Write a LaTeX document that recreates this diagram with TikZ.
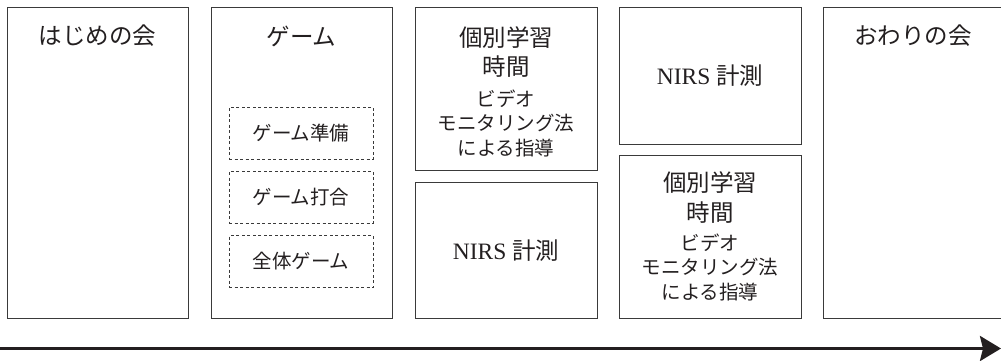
\documentclass[tikz,border=0pt]{standalone}
\usepackage{fontspec}
\setmainfont{Liberation Serif}
\newfontfamily\jp{Noto Sans CJK JP}
\usetikzlibrary{arrows.meta}
\definecolor{ink}{HTML}{231F20}
\definecolor{edge}{HTML}{3A3A3A}
\tikzset{
  boxnode/.style={draw=edge, line width=1pt, rectangle, inner sep=0pt},
  dashbox/.style={draw=edge, line width=0.9pt, dash pattern=on 3pt off 2.5pt, rectangle, inner sep=0pt, minimum width=144pt, minimum height=52pt},
  bigtxt/.style={text=ink, inner sep=0pt, align=center, font=\jp\fontsize{23.5}{29.5}\selectfont},
  smalltxt/.style={text=ink, inner sep=0pt, align=center, font=\jp\fontsize{19.5}{24.5}\selectfont},
}
\begin{document}
\begin{tikzpicture}[x=1pt,y=-1pt]
\useasboundingbox (0,0) rectangle (1001,361);
% column boxes
\node[boxnode, minimum width=181pt, minimum height=310pt] (b1) at (97.5,163) {};
\node[boxnode, minimum width=181pt, minimum height=310pt] (b2) at (301.5,163) {};
\node[boxnode, minimum width=182pt, minimum height=162pt] (b3t) at (506,89) {};
\node[boxnode, minimum width=182pt, minimum height=136pt] (b3b) at (506,250) {};
\node[boxnode, minimum width=182pt, minimum height=136pt] (b4t) at (710,76) {};
\node[boxnode, minimum width=182pt, minimum height=163pt] (b4b) at (710,236.5) {};
\node[boxnode, minimum width=187pt, minimum height=310pt] (b5) at (916.5,163) {};
% titles
\node[bigtxt] (t1) at (97.5,36) {はじめの会};
\node[bigtxt] (t2) at (301.5,36) {ゲーム};
\node[bigtxt] (t5) at (913,36) {おわりの会};
% game sub boxes
\node[dashbox] (g1) at (301,133) {};
\node[dashbox] (g2) at (301,197) {};
\node[dashbox] (g3) at (301,261.5) {};
\node[smalltxt] (g1t) at (301,133) {ゲーム準備};
\node[smalltxt] (g2t) at (301,197) {ゲーム打合};
\node[smalltxt] (g3t) at (301,261.5) {全体ゲーム};
% individual learning (column 3 top)
\node[bigtxt] (k3a) at (506,52) {個別学習\\時間};
\node[smalltxt] (k3b) at (506,123) {ビデオ\\モニタリング法\\による指導};
\node[bigtxt] (n3) at (506,251) {\rmfamily NIRS {\jp 計測}};
% column 4
\node[bigtxt] (n4) at (710,76) {\rmfamily NIRS {\jp 計測}};
\node[bigtxt] (k4a) at (710,197.5) {個別学習\\時間};
\node[smalltxt] (k4b) at (710,267) {ビデオ\\モニタリング法\\による指導};
% time arrow
\coordinate (as) at (0,348.5);
\coordinate (ae) at (1001,348.5);
\draw[line width=3pt, draw=ink, -{Stealth[length=21pt,width=25pt,inset=3pt]}] (as) -- (ae);
\end{tikzpicture}
\end{document}
